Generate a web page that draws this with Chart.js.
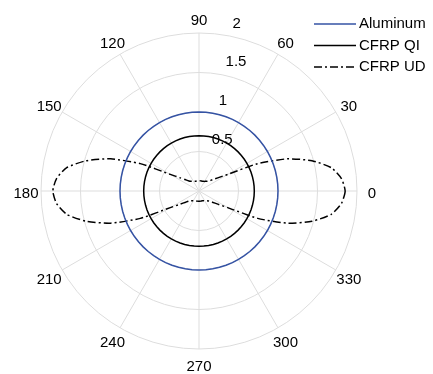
<!DOCTYPE html>
<html>
<head>
<meta charset="utf-8">
<script src="https://cdn.jsdelivr.net/npm/chart.js"></script>
<style>
    html, body { margin: 0; padding: 0; background: #fff; }
    #wrap { width: 433px; height: 374px; position: relative; }
</style>
</head>
<body>
<div id="wrap"><canvas id="polarChart"></canvas></div>
<script>
// Angle categories (degrees, counter-clockwise from 0 at the right)
const angles = [
    0, 5, 10, 15, 20, 25, 30, 35, 40, 45, 50, 55, 60, 65, 70, 75, 80, 85,
    90, 95, 100, 105, 110, 115, 120, 125, 130, 135, 140, 145, 150, 155, 160, 165, 170, 175,
    180, 185, 190, 195, 200, 205, 210, 215, 220, 225, 230, 235, 240, 245, 250, 255, 260, 265,
    270, 275, 280, 285, 290, 295, 300, 305, 310, 315, 320, 325, 330, 335, 340, 345, 350, 355
];

// Series values, one per angle above
const aluminum = [
    1, 1, 1, 1, 1, 1, 1, 1, 1, 1, 1, 1, 1, 1, 1, 1, 1, 1,
    1, 1, 1, 1, 1, 1, 1, 1, 1, 1, 1, 1, 1, 1, 1, 1, 1, 1,
    1, 1, 1, 1, 1, 1, 1, 1, 1, 1, 1, 1, 1, 1, 1, 1, 1, 1,
    1, 1, 1, 1, 1, 1, 1, 1, 1, 1, 1, 1, 1, 1, 1, 1, 1, 1
];

const cfrpQI = [
    0.7, 0.7, 0.7, 0.7, 0.7, 0.7, 0.7, 0.7, 0.7, 0.7, 0.7, 0.7, 0.7, 0.7, 0.7, 0.7, 0.7, 0.7,
    0.7, 0.7, 0.7, 0.7, 0.7, 0.7, 0.7, 0.7, 0.7, 0.7, 0.7, 0.7, 0.7, 0.7, 0.7, 0.7, 0.7, 0.7,
    0.7, 0.7, 0.7, 0.7, 0.7, 0.7, 0.7, 0.7, 0.7, 0.7, 0.7, 0.7, 0.7, 0.7, 0.7, 0.7, 0.7, 0.7,
    0.7, 0.7, 0.7, 0.7, 0.7, 0.7, 0.7, 0.7, 0.7, 0.7, 0.7, 0.7, 0.7, 0.7, 0.7, 0.7, 0.7, 0.7
];

const cfrpUD = [
    1.85, 1.81, 1.70, 1.48, 1.19, 0.82, 0.42, 0.29, 0.22, 0.18, 0.16, 0.15, 0.14, 0.135, 0.13, 0.13, 0.13, 0.13,
    0.13, 0.13, 0.13, 0.13, 0.13, 0.135, 0.14, 0.15, 0.16, 0.18, 0.22, 0.29, 0.42, 0.82, 1.19, 1.48, 1.70, 1.81,
    1.85, 1.81, 1.70, 1.48, 1.19, 0.82, 0.42, 0.29, 0.22, 0.18, 0.16, 0.15, 0.14, 0.135, 0.13, 0.13, 0.13, 0.13,
    0.13, 0.13, 0.13, 0.13, 0.13, 0.135, 0.14, 0.15, 0.16, 0.18, 0.22, 0.29, 0.42, 0.82, 1.19, 1.48, 1.70, 1.81
];

// Labelled angles and radial tick labels
const angleTicks = [0, 30, 60, 90, 120, 150, 180, 210, 240, 270, 300, 330];
const radialTicks = [0.5, 1, 1.5, 2];
const radialTickLabels = ['0.5', '1', '1.5', '2'];

const FONT = 'Arial, "Liberation Sans", Helvetica, sans-serif';
const GRID = '#dddddd';

// Chart.js radar goes clockwise, so walk the angles backwards from 0
const order = angles.map((a, k) => (angles.length - k) % angles.length);
const radarLabels = order.map(j => angles[j]);
function reorder(values) {
    return order.map(j => values[j]);
}

// Angle labels, radial tick labels and the legend, drawn on top
const polarExtras = {
    id: 'polarExtras',
    afterDraw(chart) {
        const ctx = chart.ctx;
        const scale = chart.scales.r;
        const rad = 80 * Math.PI / 180;

        ctx.save();
        ctx.font = '15px ' + FONT;
        ctx.fillStyle = '#000';
        ctx.textBaseline = 'middle';

        // angle labels, centred just outside the outer ring
        ctx.textAlign = 'center';
        angleTicks.forEach(a => {
            const pos = scale.getPointPosition(radarLabels.indexOf(a), scale.drawingArea + 15);
            ctx.fillText(String(a), pos.x, pos.y + 2.5);
        });

        // radial ticks along the 80 degree direction
        ctx.textAlign = 'left';
        radialTicks.forEach((v, i) => {
            const d = scale.getDistanceFromCenterForValue(v);
            const x = scale.xCenter + d * Math.cos(rad) + 6;
            const y = scale.yCenter - d * Math.sin(rad) - 12;
            ctx.fillText(radialTickLabels[i], x, y);
        });

        // legend
        chart.data.datasets.forEach((ds, i) => {
            const y = 24 + i * 21.5;
            ctx.beginPath();
            ctx.setLineDash(ds.borderDash || []);
            ctx.strokeStyle = ds.borderColor;
            ctx.lineWidth = ds.borderWidth;
            ctx.moveTo(314, y);
            ctx.lineTo(356, y);
            ctx.stroke();
            ctx.setLineDash([]);
            ctx.fillText(ds.label, 359, y);
        });
        ctx.restore();
    }
};

new Chart(document.getElementById('polarChart'), {
    type: 'radar',
    data: {
        labels: radarLabels,
        datasets: [{
            label: 'Aluminum',
            data: reorder(aluminum),
            borderColor: '#3553a4',
            borderWidth: 1.5,
            fill: false,
            tension: 0
        }, {
            label: 'CFRP QI',
            data: reorder(cfrpQI),
            borderColor: '#000000',
            borderWidth: 1.5,
            fill: false,
            tension: 0
        }, {
            label: 'CFRP UD',
            data: reorder(cfrpUD),
            borderColor: '#000000',
            borderWidth: 1.5,
            borderDash: [8, 3, 2, 3],
            fill: false,
            tension: 0.2
        }]
    },
    options: {
        responsive: true,
        maintainAspectRatio: false,
        animation: false,
        layout: {
            padding: { top: 33, bottom: 25, left: 41, right: 76 }
        },
        elements: {
            point: { radius: 0, hoverRadius: 0 }
        },
        plugins: {
            legend: { display: false },
            tooltip: { enabled: false }
        },
        scales: {
            r: {
                min: 0,
                max: 2,
                startAngle: 90,
                ticks: { display: false, stepSize: 0.5 },
                grid: { circular: true, color: GRID, lineWidth: 1 },
                angleLines: {
                    color: GRID,
                    lineWidth: function(context) {
                        return radarLabels[context.index] % 30 === 0 ? 1 : 0;
                    }
                },
                pointLabels: { display: false }
            }
        }
    },
    plugins: [polarExtras]
});
</script>
</body>
</html>
